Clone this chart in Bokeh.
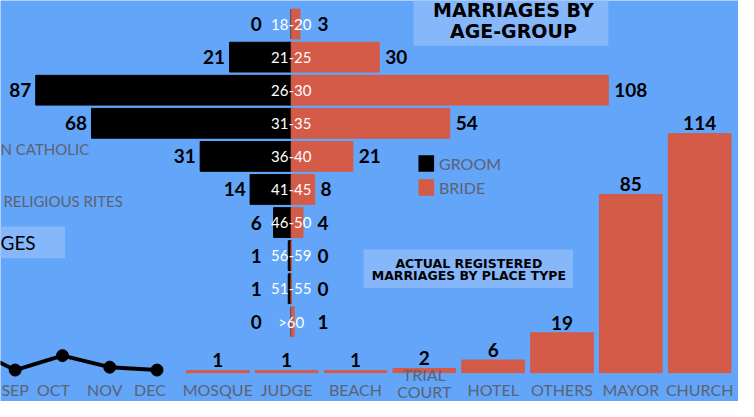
from bokeh.plotting import figure
from bokeh.models import Range1d
from bokeh.core.properties import value
from bokeh.embed import file_html
from bokeh.resources import INLINE

# ---------------- data ----------------
age_groups = ["18-20", "21-25", "26-30", "31-35", "36-40", "41-45", "46-50", "56-59", "51-55", ">60"]
groom = [0, 21, 87, 68, 31, 14, 6, 1, 1, 0]
bride = [3, 30, 108, 54, 21, 8, 4, 0, 0, 1]

places = ["MOSQUE", "JUDGE", "BEACH", "TRIAL COURT", "HOTEL", "OTHERS", "MAYOR", "CHURCH"]
place_counts = [1, 1, 1, 2, 6, 19, 85, 114]

months = ["AUG", "SEP", "OCT", "NOV", "DEC"]
month_index = [7, 8, 9, 10, 11]
month_values = [30, 14, 24, 16, 14]

# ---------------- styles ----------------
BG = "#63A5F8"
BOX = "#86B7FB"
RED = "#D35B48"
GRAY = "#5B6274"
REF_W, REF_H = 754, 417

p = figure(width=738, height=401, x_range=Range1d(0, REF_W), y_range=Range1d(REF_H, 0),
           x_axis_type=None, y_axis_type=None, output_backend="svg", toolbar_location=None,
           min_border=0, background_fill_color=BG, border_fill_color=BG, outline_line_color=None)
p.grid.visible = False

# layout mappings (reference-pixel positions of each panel)
bx0, bk = 297, 3.0          # butterfly centre x, px per unit
by0, bp = 24.5, 34.4        # first row centre y, row pitch
px0, pp = 222, 70.33        # first place bar centre x, pitch
py0, pk = 387, 2.18         # place baseline y, px per unit
mx0, mp = 15, 48.3          # SEP x, month pitch
my0, mk = 405.3, 1.5        # month zero y, px per unit

p.extra_x_ranges = {
    "bx": Range1d((0 - bx0) / bk, (REF_W - bx0) / bk),
    "px": Range1d((0 - px0) / pp, (REF_W - px0) / pp),
    "mx": Range1d(8 + (0 - mx0) / mp, 8 + (REF_W - mx0) / mp),
}
p.extra_y_ranges = {
    "by": Range1d((REF_H - by0) / bp, (0 - by0) / bp),
    "py": Range1d(-(REF_H - py0) / pk, py0 / pk),
    "my": Range1d(-(REF_H - my0) / mk, my0 / mk),
}

# ---------------- decorative boxes ----------------
p.quad(left=[422, 371, 0], right=[621, 585, 66], top=[0, 259, 235], bottom=[47, 299, 268],
       color=BOX, line_color=None)

# ---------------- butterfly ----------------
rows = list(range(len(age_groups)))
p.hbar(y=rows, left=[-g for g in groom], right=0, height=0.9, color="black",
       x_range_name="bx", y_range_name="by")
p.hbar(y=rows, left=0, right=bride, height=0.9, color=RED,
       x_range_name="bx", y_range_name="by")
p.text(x=0, y=rows, text=age_groups, text_align="center", text_baseline="middle",
       text_color="white", text_font=value("Lato"), text_font_size="15px",
       x_range_name="bx", y_range_name="by")
p.text(x=[-(max(g, 8.5) + 1.5) for g in groom], y=rows, text=[str(g) for g in groom],
       text_align="right", text_baseline="middle", text_color="black",
       text_font=value("Lato"), text_font_style="bold", text_font_size="19px",
       x_range_name="bx", y_range_name="by")
p.text(x=[max(b, 7) + 2 for b in bride], y=rows, text=[str(b) for b in bride],
       text_align="left", text_baseline="middle", text_color="black",
       text_font=value("Lato"), text_font_style="bold", text_font_size="19px",
       x_range_name="bx", y_range_name="by")

# title
p.text(x=524, y=[10, 31.5], text=["MARRIAGES BY", "AGE-GROUP"], text_align="center",
       text_baseline="middle", text_color="black", text_font=value("DejaVu Sans"),
       text_font_style="bold", text_font_size="19px")

# legend
p.quad(left=427, right=443, top=[161, 186], bottom=[178, 203], color=["black", RED], line_color=None)
p.text(x=448, y=[169.5, 194.5], text=["GROOM", "BRIDE"], text_align="left", text_baseline="middle",
       text_color=GRAY, text_font=value("Lato"), text_font_size="16px")

# ---------------- place bars ----------------
pidx = list(range(len(places)))
p.vbar(x=pidx, top=place_counts, bottom=0, width=0.91, color=RED,
       x_range_name="px", y_range_name="py")
p.text(x=pidx, y=[c + 4.9 for c in place_counts], text=[str(c) for c in place_counts],
       text_align="center", text_baseline="middle", text_color="black",
       text_font=value("Lato"), text_font_style="bold", text_font_size="19px",
       x_range_name="px", y_range_name="py")
p.text(x=pidx, y=[398 if " " in s else 405 for s in places],
       text=[s.replace(" ", "\n") for s in places], text_align="center",
       text_baseline="middle", text_color=GRAY, text_font=value("Lato"), text_font_size="16px",
       text_line_height=0.92, x_range_name="px")
p.text(x=478.5, y=[273, 285.5], text=["ACTUAL REGISTERED", "MARRIAGES BY PLACE TYPE"],
       text_align="center", text_baseline="middle", text_color="black",
       text_font=value("DejaVu Sans"), text_font_style="bold", text_font_size="12.5px")

# ---------------- monthly line (fragment) ----------------
p.line(x=month_index, y=month_values, line_width=4, color="black",
       x_range_name="mx", y_range_name="my")
p.scatter(x=month_index, y=month_values, size=12, color="black",
          x_range_name="mx", y_range_name="my")
p.text(x=month_index[1:], y=405, x_offset=[0, -9, -5, -7], text=months[1:], text_align="center",
       text_baseline="middle", text_color=GRAY, text_font=value("Lato"), text_font_size="16px",
       x_range_name="mx")

# ---------------- left fragments (visible parts of neighbouring panels) ----------------
p.text(x=[0, 3], y=[154.5, 208.5], text=["N CATHOLIC", "RELIGIOUS RITES"],
       text_align="left", text_baseline="middle", text_color=GRAY,
       text_font=value("Lato"), text_font_size="15px")
p.text(x=0, y=251.5, text=["GES"], text_align="left", text_baseline="middle",
       text_color="black", text_font=value("Lato"), text_font_size="19px")

open("out.html", "w").write(file_html(p, INLINE))
